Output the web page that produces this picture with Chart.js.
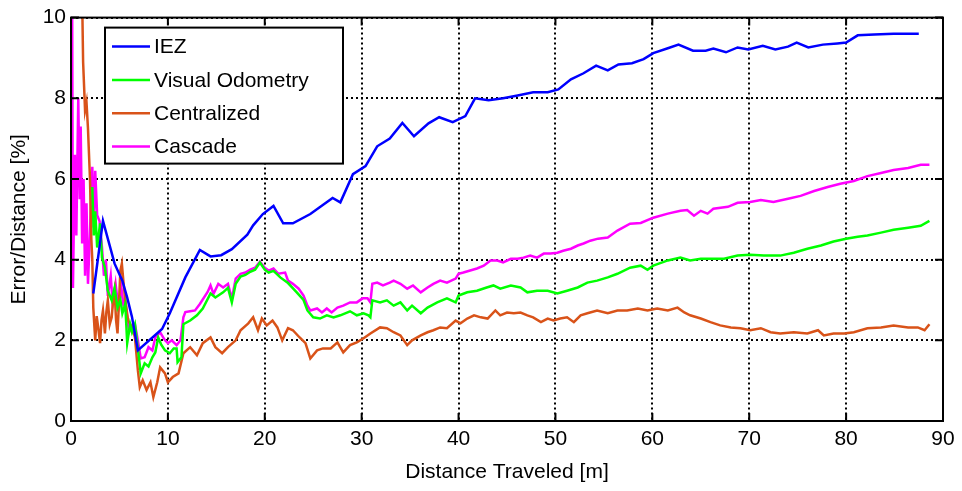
<!DOCTYPE html>
<html>
<head>
<meta charset="utf-8">
<script src="https://cdn.jsdelivr.net/npm/chart.js@4"></script>
<style>
  html, body { margin: 0; padding: 0; background: #fff; }
</style>
</head>
<body>
<canvas id="grafico" width="962" height="491"></canvas>
<script>
// dados: [distância, erro]
const iez = [[2.3,3.16],[3.3,4.96],[4.5,3.9],[5.3,3.48],[5.8,3.06],[6.3,2.57],[6.9,1.75],[9.4,2.28],[10.2,2.67],[11.8,3.56],[13.3,4.24],[14.4,4.08],[15.5,4.11],[16.6,4.26],[18.2,4.62],[18.8,4.85],[19.8,5.13],[20.9,5.33],[21.9,4.9],[22.9,4.9],[24.7,5.13],[27.0,5.53],[27.8,5.42],[29.1,6.12],[30.4,6.32],[31.6,6.81],[32.9,7.0],[34.2,7.39],[35.4,7.06],[36.9,7.38],[38.0,7.53],[39.4,7.41],[40.7,7.56],[41.7,8.0],[43.1,7.95],[44.6,8.0],[46.1,8.07],[47.7,8.15],[49.2,8.15],[50.3,8.22],[51.6,8.47],[52.9,8.62],[54.2,8.81],[55.4,8.69],[56.5,8.84],[57.9,8.87],[59.1,8.97],[60.1,9.12],[61.6,9.24],[62.7,9.33],[64.2,9.18],[65.5,9.18],[66.3,9.23],[67.6,9.14],[68.8,9.26],[69.9,9.21],[71.4,9.3],[72.7,9.21],[74.0,9.28],[74.9,9.38],[76.1,9.26],[77.6,9.33],[79.1,9.36],[80.0,9.38],[81.2,9.56],[82.9,9.58],[84.9,9.6],[87.5,9.6]];

const visualOdometry = [[2.2,5.8],[2.35,4.6],[2.5,5.2],[2.7,4.3],[3.0,4.9],[3.2,4.05],[3.5,3.8],[3.8,3.23],[4.2,2.99],[4.5,3.3],[4.8,2.81],[5.1,3.0],[5.3,2.67],[5.6,2.9],[5.8,1.93],[6.1,2.4],[6.3,2.2],[6.6,2.4],[6.8,2.0],[7.2,1.18],[7.6,1.43],[8.0,1.35],[8.4,1.58],[8.7,1.7],[9.0,2.07],[9.3,1.9],[9.7,1.75],[10.2,1.68],[10.6,1.8],[10.9,1.8],[11.0,1.46],[11.4,1.58],[11.6,2.4],[12.3,2.49],[13.0,2.62],[13.6,2.79],[14.4,3.16],[14.9,3.06],[15.7,3.19],[16.2,3.3],[16.6,2.94],[17.0,3.4],[17.5,3.58],[18.0,3.62],[18.5,3.7],[19.0,3.75],[19.5,3.93],[20.0,3.75],[20.4,3.68],[20.9,3.72],[21.6,3.56],[22.4,3.42],[23.3,3.19],[24.0,3.0],[24.4,2.74],[25.0,2.57],[25.7,2.54],[26.4,2.62],[27.1,2.57],[27.8,2.62],[28.8,2.72],[29.5,2.62],[30.2,2.67],[30.7,2.62],[30.9,2.57],[31.1,2.99],[31.9,2.94],[32.6,2.99],[33.3,2.86],[34.0,2.94],[34.7,2.74],[35.2,2.86],[36.1,2.67],[36.8,2.81],[37.8,2.94],[38.8,3.04],[39.7,2.94],[40.0,3.11],[40.9,3.19],[41.9,3.23],[42.9,3.31],[43.6,3.36],[44.3,3.28],[45.4,3.36],[46.4,3.31],[47.1,3.19],[48.1,3.23],[49.2,3.23],[50.2,3.16],[51.2,3.23],[52.3,3.31],[53.3,3.43],[54.3,3.48],[55.4,3.56],[56.4,3.65],[57.7,3.8],[58.8,3.85],[59.5,3.75],[60.1,3.85],[61.6,3.98],[62.9,4.05],[63.9,3.98],[65.0,4.02],[66.0,4.02],[67.4,4.02],[68.8,4.1],[70.1,4.12],[71.5,4.1],[73.2,4.1],[74.6,4.17],[76.0,4.27],[77.4,4.35],[78.7,4.45],[80.0,4.52],[81.2,4.57],[82.2,4.6],[83.6,4.67],[84.9,4.74],[86.4,4.79],[87.7,4.84],[88.6,4.96]];

const centralized = [[1.15,10.5],[1.25,8.9],[1.45,7.7],[1.6,7.9],[1.75,7.26],[1.96,6.0],[2.1,4.5],[2.2,3.98],[2.3,2.81],[2.5,2.0],[2.65,2.6],[2.8,2.33],[3.0,1.93],[3.15,2.5],[3.3,2.74],[3.5,2.17],[3.65,2.7],[3.8,2.99],[4.0,2.4],[4.2,2.57],[4.35,3.0],[4.5,3.23],[4.65,2.5],[4.8,2.17],[5.0,3.2],[5.1,3.73],[5.25,3.9],[5.4,3.48],[5.6,2.99],[5.9,2.49],[6.3,2.33],[6.6,2.07],[6.9,1.26],[7.1,0.84],[7.4,1.01],[7.8,0.77],[8.2,0.96],[8.5,0.59],[8.9,0.96],[9.2,1.33],[9.7,1.18],[10.0,0.96],[10.5,1.09],[11.1,1.18],[11.6,1.68],[12.3,1.83],[13.0,1.63],[13.6,1.93],[14.4,2.07],[14.9,1.83],[15.6,1.68],[16.2,1.83],[17.0,2.0],[17.5,2.25],[18.3,2.42],[18.8,2.57],[19.3,2.25],[19.7,2.54],[20.2,2.37],[20.8,2.49],[21.3,2.32],[21.8,2.0],[22.4,2.3],[22.9,2.25],[23.6,2.07],[24.2,1.93],[24.7,1.55],[25.4,1.75],[26.0,1.8],[26.8,1.8],[27.5,1.95],[28.1,1.7],[28.8,1.88],[29.5,1.95],[30.2,2.05],[30.9,2.17],[31.9,2.32],[32.6,2.3],[33.3,2.2],[34.0,2.12],[34.7,1.88],[35.2,2.0],[36.1,2.12],[36.8,2.2],[37.4,2.25],[38.1,2.32],[38.8,2.3],[39.7,2.49],[40.2,2.42],[40.9,2.54],[41.6,2.62],[42.3,2.57],[43.0,2.54],[43.8,2.74],[44.3,2.62],[45.0,2.69],[45.7,2.67],[46.4,2.69],[47.1,2.62],[47.7,2.57],[48.5,2.45],[49.2,2.54],[49.8,2.49],[50.5,2.54],[51.2,2.57],[51.9,2.45],[52.6,2.62],[53.3,2.67],[54.3,2.74],[55.4,2.67],[56.4,2.74],[57.4,2.74],[58.5,2.79],[59.5,2.74],[60.5,2.79],[61.6,2.74],[62.6,2.81],[63.3,2.69],[63.9,2.62],[65.0,2.54],[66.0,2.45],[67.0,2.37],[68.1,2.32],[69.1,2.3],[70.1,2.25],[71.2,2.3],[72.2,2.2],[73.2,2.17],[74.6,2.2],[76.0,2.17],[77.1,2.25],[77.7,2.12],[78.7,2.17],[79.8,2.17],[80.8,2.2],[82.2,2.3],[83.6,2.32],[84.9,2.37],[86.4,2.32],[87.4,2.32],[88.1,2.25],[88.6,2.4]];

const cascade = [[0.1,12],[0.2,3.3],[0.4,6.6],[0.55,4.6],[0.75,8.0],[0.9,5.5],[1.0,7.3],[1.15,4.4],[1.3,6.0],[1.45,3.6],[1.6,5.4],[1.75,3.4],[1.95,4.6],[2.05,5.4],[2.2,6.3],[2.35,4.8],[2.5,6.2],[2.7,5.1],[2.95,4.95],[3.2,4.3],[3.4,3.6],[3.6,4.0],[3.8,3.1],[4.1,3.6],[4.3,2.9],[4.6,3.4],[4.9,2.8],[5.2,3.3],[5.4,2.9],[5.6,3.0],[5.8,2.57],[6.0,2.2],[6.3,2.33],[6.6,2.4],[6.9,2.0],[7.2,1.55],[7.6,1.58],[8.0,1.83],[8.4,1.75],[8.7,2.07],[9.2,2.2],[9.7,2.0],[10.0,1.93],[10.4,2.0],[10.9,1.88],[11.3,2.0],[11.6,2.57],[11.8,2.7],[12.3,2.72],[12.8,2.74],[13.3,2.9],[14.1,3.2],[14.4,3.36],[14.7,3.15],[15.2,3.4],[15.7,3.31],[16.2,3.4],[16.6,3.03],[17.0,3.53],[17.5,3.65],[18.0,3.68],[18.5,3.75],[19.0,3.8],[19.5,3.95],[20.0,3.8],[20.4,3.73],[20.9,3.78],[21.4,3.65],[22.1,3.68],[22.4,3.48],[22.9,3.4],[23.5,3.28],[24.0,3.11],[24.4,2.86],[24.7,2.74],[25.4,2.79],[25.9,2.69],[26.4,2.79],[26.9,2.69],[27.5,2.81],[28.1,2.86],[28.8,2.94],[29.5,2.94],[30.1,3.04],[30.6,3.04],[30.9,2.94],[31.1,3.4],[31.6,3.43],[32.2,3.36],[32.9,3.43],[33.3,3.48],[34.0,3.4],[34.7,3.28],[35.3,3.36],[36.1,3.19],[36.8,3.31],[37.4,3.4],[38.1,3.48],[38.8,3.43],[39.7,3.53],[40.0,3.65],[40.5,3.68],[41.2,3.73],[41.9,3.78],[42.6,3.85],[43.3,3.98],[44.0,3.98],[44.6,3.93],[45.4,4.02],[46.1,4.02],[46.7,4.05],[47.4,4.1],[48.1,4.05],[48.8,4.15],[49.5,4.15],[50.2,4.17],[50.8,4.22],[51.6,4.27],[52.3,4.35],[52.9,4.4],[53.6,4.47],[54.4,4.52],[55.4,4.55],[56.4,4.72],[57.7,4.89],[58.8,4.91],[60.1,5.04],[61.6,5.14],[62.9,5.21],[63.6,5.23],[64.3,5.09],[65.0,5.21],[65.7,5.14],[66.3,5.26],[67.8,5.31],[68.8,5.41],[70.1,5.43],[71.2,5.48],[72.5,5.43],[74.0,5.51],[75.3,5.58],[76.7,5.7],[78.1,5.8],[79.4,5.88],[80.8,5.95],[82.2,6.07],[83.6,6.15],[84.9,6.22],[86.4,6.27],[87.7,6.35],[88.6,6.35]];

const nomes = ['IEZ', 'Visual Odometry', 'Centralized', 'Cascade'];
const cores = ['#0000ff', '#00ff00', '#d95319', '#ff00ff'];
const xTicks = [0, 10, 20, 30, 40, 50, 60, 70, 80, 90];
const yTicks = [0, 2, 4, 6, 8, 10];

const fonte = "'Liberation Sans', Arial, Helvetica, sans-serif";
Chart.defaults.font.family = fonte;
Chart.defaults.color = '#000';

function montaSerie(pares, i) {
  return {
    label: nomes[i],
    data: pares.map(p => ({ x: p[0], y: p[1] })),
    borderColor: cores[i],
    borderWidth: 2.5,
    pointRadius: 0,
    tension: 0,
    fill: false
  };
}

// caixa, marcas internas e legenda no estilo MATLAB
const moldura = {
  id: 'moldura',
  afterDatasetsDraw(chart) {
    const ctx = chart.ctx;
    const a = chart.chartArea;
    const sx = chart.scales.x, sy = chart.scales.y;
    ctx.save();
    ctx.strokeStyle = '#000';
    ctx.lineWidth = 2;
    ctx.beginPath();
    xTicks.forEach(v => {
      const px = sx.getPixelForValue(v);
      ctx.moveTo(px, a.bottom); ctx.lineTo(px, a.bottom - 8);
      ctx.moveTo(px, a.top); ctx.lineTo(px, a.top + 8);
    });
    yTicks.forEach(v => {
      const py = sy.getPixelForValue(v);
      ctx.moveTo(a.left, py); ctx.lineTo(a.left + 8, py);
      ctx.moveTo(a.right, py); ctx.lineTo(a.right - 8, py);
    });
    ctx.stroke();
    ctx.lineWidth = 2;
    ctx.strokeRect(a.left, a.top, a.right - a.left, a.bottom - a.top);

    // legenda
    const lx = a.left + 34, ly = a.top + 10, lw = 238, lh = 136;
    ctx.fillStyle = '#fff';
    ctx.fillRect(lx, ly, lw, lh);
    ctx.lineWidth = 2;
    ctx.strokeRect(lx, ly, lw, lh);
    ctx.font = '21px ' + fonte;
    ctx.textBaseline = 'middle';
    chart.data.datasets.forEach((ds, i) => {
      const yy = ly + 19 + i * 33.3;
      ctx.strokeStyle = ds.borderColor;
      ctx.lineWidth = 2.5;
      ctx.beginPath();
      ctx.moveTo(lx + 7, yy); ctx.lineTo(lx + 45, yy);
      ctx.stroke();
      ctx.fillStyle = '#000';
      ctx.fillText(ds.label, lx + 49, yy + 1);
    });
    ctx.restore();
  }
};

const grade = {
  color: '#000',
  lineWidth: 2,
  drawTicks: false
};

new Chart(document.getElementById('grafico'), {
  type: 'line',
  data: {
    datasets: [
      montaSerie(iez, 0),
      montaSerie(visualOdometry, 1),
      montaSerie(centralized, 2),
      montaSerie(cascade, 3)
    ]
  },
  plugins: [moldura],
  options: {
    responsive: false,
    animation: false,
    layout: { padding: { top: 16, right: 19, left: 0, bottom: 0 } },
    plugins: { legend: { display: false }, tooltip: { enabled: false } },
    scales: {
      x: {
        type: 'linear',
        min: 0, max: 90,
        afterBuildTicks: s => { s.ticks = xTicks.map(v => ({ value: v })); },
        afterFit: s => { s.height = 70; },
        ticks: { font: { size: 21 }, padding: 6, maxRotation: 0, autoSkip: false },
        grid: grade,
        border: { display: false, dash: [2, 3] },
        title: { display: true, text: 'Distance Traveled [m]', font: { size: 21 }, padding: { top: 0, bottom: 6 } }
      },
      y: {
        min: 0, max: 10,
        afterBuildTicks: s => { s.ticks = yTicks.map(v => ({ value: v })); },
        afterFit: s => { s.width = 71; },
        ticks: { font: { size: 21 }, padding: 5, autoSkip: false },
        grid: grade,
        border: { display: false, dash: [2, 3] },
        title: { display: true, text: 'Error/Distance [%]', font: { size: 21 }, padding: { top: 7, bottom: 0 } }
      }
    }
  }
});
</script>
</body>
</html>
